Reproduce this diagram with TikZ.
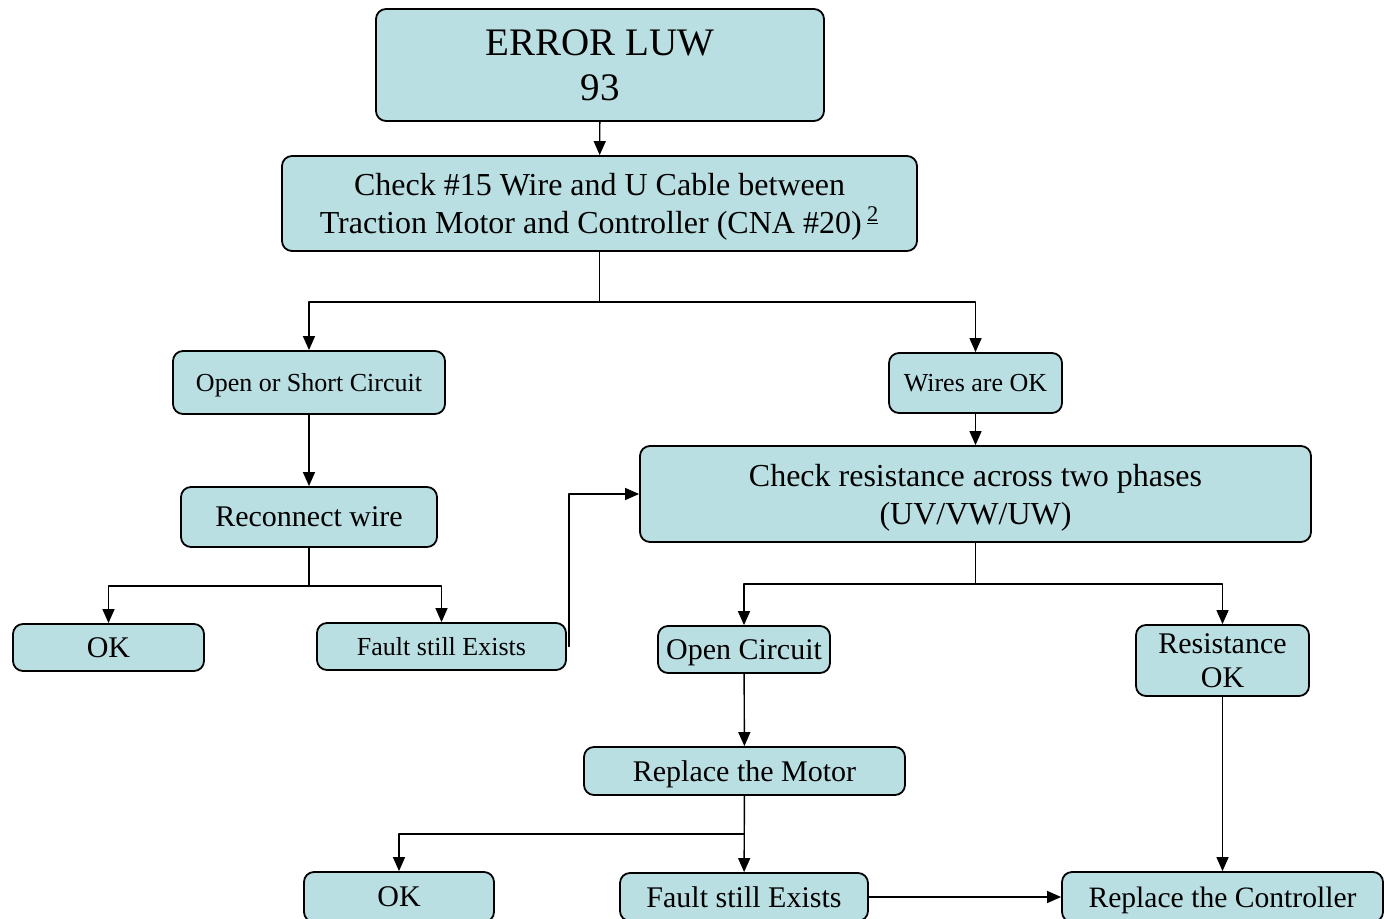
\documentclass[tikz,border=0pt]{standalone}
\usepackage{fontspec}
\setmainfont{Liberation Serif}
\usetikzlibrary{arrows.meta}
\definecolor{boxfill}{HTML}{B9DFE3}

\begin{document}
\begin{tikzpicture}[
			x=0.5pt,
			y=-0.5pt,
			line cap=round,
			line join=round,
			flowbox/.style={draw, line width=0.9pt, fill=boxfill, rounded corners=5pt, align=center, inner sep=0pt, text depth=0pt},
			link/.style={line width=0.7pt, -{Triangle[length=7pt,width=6pt]}}
			]
			
			\useasboundingbox (0,0) rectangle (1384,919);
			
			% top of the chart
			\node[flowbox, minimum width=224pt, minimum height=56pt, font=\fontsize{19.5}{22.5}\selectfont] (error) at (600,65) {ERROR LUW\\93};
			\node[flowbox, minimum width=317.5pt, minimum height=47.5pt, font=\fontsize{16}{19}\selectfont] (check) at (599.5,203.5) {Check \#15 Wire and U Cable between\\Traction Motor and Controller (CNA \#20)\,\textsuperscript{\underline{2}}};
			
			% left branch
			\node[flowbox, minimum width=136pt, minimum height=31.5pt, font=\fontsize{13}{15}\selectfont] (opensc) at (309,382.5) {Open or Short Circuit};
			\node[flowbox, minimum width=128pt, minimum height=30pt, font=\fontsize{15}{17}\selectfont] (reconnect) at (309,517) {Reconnect wire};
			\node[flowbox, minimum width=95.5pt, minimum height=23.5pt, font=\fontsize{15}{17}\selectfont] (okA) at (108.5,647.5) {OK};
			\node[flowbox, minimum width=124.5pt, minimum height=23.5pt, font=\fontsize{13}{15}\selectfont] (faultA) at (441.5,646.5) {Fault still Exists};
			
			% right branch
			\node[flowbox, minimum width=86.5pt, minimum height=30pt, font=\fontsize{13}{15}\selectfont] (wiresok) at (975.5,383) {Wires are OK};
			\node[flowbox, minimum width=335.5pt, minimum height=48pt, font=\fontsize{16}{19}\selectfont] (resist) at (975.5,494) {Check resistance across two phases\\(UV/VW/UW)};
			\node[flowbox, minimum width=86pt, minimum height=23.5pt, font=\fontsize{15}{17}\selectfont] (opencirc) at (744,649.5) {Open Circuit};
			\node[flowbox, minimum width=86.5pt, minimum height=35.5pt, font=\fontsize{15}{17}\selectfont] (resok) at (1222.5,660.5) {Resistance\\OK};
			\node[flowbox, minimum width=160.5pt, minimum height=24pt, font=\fontsize{15}{17}\selectfont] (motor) at (744.5,771) {Replace the Motor};
			
			% bottom row
			\node[flowbox, minimum width=95pt, minimum height=25pt, font=\fontsize{15}{17}\selectfont] (okB) at (399,897) {OK};
			\node[flowbox, minimum width=124pt, minimum height=24pt, font=\fontsize{15}{17}\selectfont] (faultB) at (744,897) {Fault still Exists};
			\node[flowbox, minimum width=160.5pt, minimum height=25pt, font=\fontsize{14.8}{17}\selectfont] (replctrl) at (1222.5,897) {Replace the Controller};
			
			% connectors
			\draw[link] (error) -- (check);
			\draw[link] (check.south) -- ++(0,50) -| (opensc);
			\draw[link] (check.south) -- ++(0,50) -| (wiresok);
			\draw[link] (opensc) -- (reconnect);
			\draw[link] (wiresok) -- (resist);
			\draw[link] (reconnect.south) -- ++(0,38) -| (okA);
			\draw[link] (reconnect.south) -- ++(0,38) -| (faultA);
			\draw[link] ([xshift=1pt]faultA.east) |- (resist);
			\draw[link] (resist.south) -- ++(0,41) -| (opencirc);
			\draw[link] (resist.south) -- ++(0,41) -| (resok);
			\draw[link] (opencirc) -- (motor);
			\draw[link] (motor.south) -- ++(0,38) -| (okB);
			\draw[link] (motor) -- (faultB);
			\draw[link] (faultB) -- (replctrl);
			\draw[link] (resok) -- (replctrl);
			
		\end{tikzpicture}
\end{document}
